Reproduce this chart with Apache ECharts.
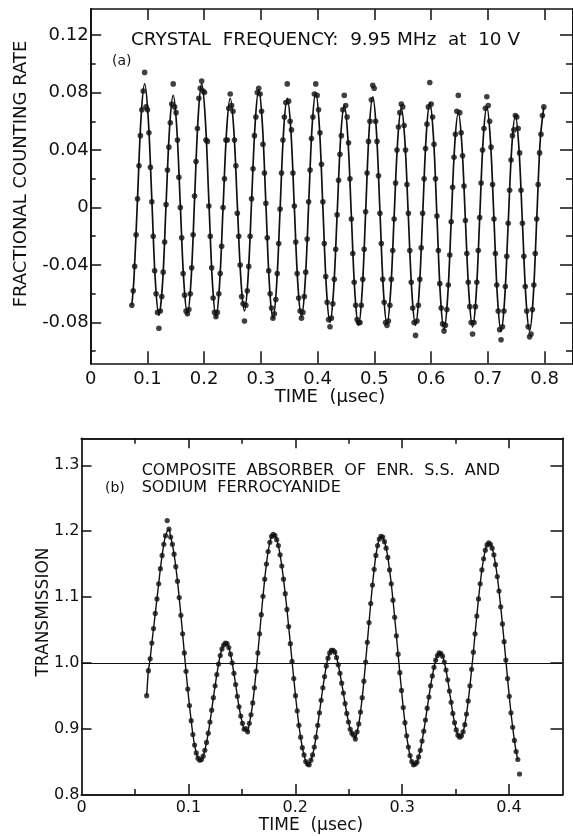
<!DOCTYPE html>
<html><head><meta charset="utf-8">
<script src="https://cdn.jsdelivr.net/npm/echarts@6/dist/echarts.min.js"></script>
<style>html,body{margin:0;padding:0;background:#fff}#c{width:573px;height:836px}</style>
</head><body><div id="c"></div>
<script>
// ---------- Panel (a): crystal frequency 9.95 MHz ----------
const timeA = [0.0725,
0.0750,0.0775,0.0800,0.0825,0.0851,0.0876,0.0901,0.0926,0.0951,0.0976,0.1001,0.1026,0.1052,0.1077,0.1102,0.1127,0.1152,0.1177,0.1202,0.1227,
0.1253,0.1278,0.1303,0.1328,0.1353,0.1378,0.1403,0.1428,0.1454,0.1479,0.1504,0.1529,0.1554,0.1579,0.1604,0.1629,0.1655,0.1680,0.1705,0.1730,
0.1755,0.1780,0.1805,0.1830,0.1856,0.1881,0.1906,0.1931,0.1956,0.1981,0.2006,0.2031,0.2057,0.2082,0.2107,0.2132,0.2157,0.2182,0.2207,0.2232,
0.2258,0.2283,0.2308,0.2333,0.2358,0.2383,0.2408,0.2433,0.2459,0.2484,0.2509,0.2534,0.2559,0.2584,0.2609,0.2634,0.2660,0.2685,0.2710,0.2735,
0.2760,0.2785,0.2810,0.2835,0.2861,0.2886,0.2911,0.2936,0.2961,0.2986,0.3011,0.3036,0.3062,0.3087,0.3112,0.3137,0.3162,0.3187,0.3212,0.3237,
0.3263,0.3288,0.3313,0.3338,0.3363,0.3388,0.3413,0.3438,0.3464,0.3489,0.3514,0.3539,0.3564,0.3589,0.3614,0.3639,0.3665,0.3690,0.3715,0.3740,
0.3765,0.3790,0.3815,0.3840,0.3866,0.3891,0.3916,0.3941,0.3966,0.3991,0.4016,0.4041,0.4067,0.4092,0.4117,0.4142,0.4167,0.4192,0.4217,0.4242,
0.4268,0.4293,0.4318,0.4343,0.4368,0.4393,0.4418,0.4443,0.4469,0.4494,0.4519,0.4544,0.4569,0.4594,0.4619,0.4644,0.4670,0.4695,0.4720,0.4745,
0.4770,0.4795,0.4820,0.4845,0.4871,0.4896,0.4921,0.4946,0.4971,0.4996,0.5021,0.5046,0.5072,0.5097,0.5122,0.5147,0.5172,0.5197,0.5222,0.5247,
0.5273,0.5298,0.5323,0.5348,0.5373,0.5398,0.5423,0.5448,0.5474,0.5499,0.5524,0.5549,0.5574,0.5599,0.5624,0.5649,0.5675,0.5700,0.5725,0.5750,
0.5775,0.5800,0.5825,0.5850,0.5876,0.5901,0.5926,0.5951,0.5976,0.6001,0.6026,0.6051,0.6077,0.6102,0.6127,0.6152,0.6177,0.6202,0.6227,0.6252,
0.6278,0.6303,0.6328,0.6353,0.6378,0.6403,0.6428,0.6453,0.6479,0.6504,0.6529,0.6554,0.6579,0.6604,0.6629,0.6654,0.6680,0.6705,0.6730,0.6755,
0.6780,0.6805,0.6830,0.6855,0.6881,0.6906,0.6931,0.6956,0.6981,0.7006,0.7031,0.7056,0.7082,0.7107,0.7132,0.7157,0.7182,0.7207,0.7232,0.7257,
0.7283,0.7308,0.7333,0.7358,0.7383,0.7408,0.7433,0.7458,0.7484,0.7509,0.7534,0.7559,0.7584,0.7609,0.7634,0.7659,0.7685,0.7710,0.7735,0.7760,
0.7785,0.7810,0.7835,0.7860,0.7886,0.7911,0.7936,0.7961,0.7986];

const rateA = [-0.068,
-0.058,-0.041,-0.019,0.006,0.029,0.050,0.068,0.081,0.094,0.070,0.068,0.052,0.028,0.004,-0.020,-0.044,-0.060,-0.073,-0.084,-0.072,
-0.062,-0.045,-0.024,0.002,0.026,0.042,0.059,0.072,0.086,0.070,0.066,0.047,0.021,0.000,-0.021,-0.046,-0.061,-0.072,-0.074,-0.071,
-0.060,-0.042,-0.019,0.008,0.032,0.055,0.076,0.083,0.088,0.081,0.080,0.047,0.046,0.001,-0.020,-0.042,-0.063,-0.073,-0.076,-0.073,
-0.060,-0.046,-0.027,0.000,0.020,0.047,0.047,0.069,0.079,0.071,0.067,0.047,0.029,-0.004,-0.020,-0.040,-0.062,-0.067,-0.079,-0.068,
-0.058,-0.041,-0.020,0.006,0.027,0.050,0.063,0.080,0.083,0.079,0.067,0.044,0.024,0.003,-0.021,-0.044,-0.060,-0.070,-0.077,-0.074,
-0.064,-0.046,-0.025,-0.001,0.024,0.047,0.063,0.073,0.086,0.074,0.060,0.054,0.024,0.001,-0.024,-0.046,-0.063,-0.072,-0.077,-0.073,
-0.062,-0.045,-0.022,0.004,0.026,0.048,0.063,0.079,0.086,0.078,0.068,0.052,0.030,0.004,-0.025,-0.048,-0.066,-0.078,-0.083,-0.077,
-0.067,-0.050,-0.029,-0.005,0.019,0.037,0.050,0.068,0.078,0.071,0.063,0.045,0.020,-0.008,-0.032,-0.052,-0.068,-0.078,-0.080,-0.080,
-0.068,-0.050,-0.029,-0.003,0.024,0.046,0.060,0.075,0.085,0.083,0.060,0.046,0.022,-0.004,-0.025,-0.050,-0.066,-0.080,-0.082,-0.079,
-0.068,-0.050,-0.030,-0.008,0.017,0.040,0.056,0.066,0.072,0.070,0.057,0.040,0.016,-0.004,-0.030,-0.052,-0.070,-0.080,-0.089,-0.079,
-0.068,-0.050,-0.028,-0.004,0.020,0.041,0.058,0.070,0.087,0.072,0.063,0.044,0.020,-0.006,-0.030,-0.053,-0.070,-0.081,-0.086,-0.082,
-0.071,-0.054,-0.033,-0.010,0.014,0.035,0.051,0.067,0.078,0.066,0.052,0.036,0.015,-0.009,-0.032,-0.052,-0.069,-0.080,-0.088,-0.080,
-0.069,-0.052,-0.030,-0.007,0.017,0.040,0.055,0.069,0.077,0.071,0.060,0.042,0.016,-0.008,-0.032,-0.054,-0.072,-0.085,-0.092,-0.083,
-0.072,-0.055,-0.034,-0.011,0.012,0.033,0.050,0.054,0.064,0.063,0.055,0.038,0.012,-0.011,-0.034,-0.055,-0.072,-0.083,-0.090,-0.088,
-0.071,-0.054,-0.032,-0.008,0.016,0.038,0.051,0.064,0.070];

// fitted curve of panel (a), read at peaks, troughs and the points between
const fitTimeA = [0.0725,
0.0763,0.0826,0.0888,0.0951,0.1014,0.1077,0.1139,0.1202,
0.1266,0.1328,0.1391,0.1454,0.1516,0.1579,0.1642,0.1705,
0.1768,0.1831,0.1894,0.1956,0.2019,0.2082,0.2145,0.2207,
0.2270,0.2333,0.2396,0.2459,0.2522,0.2584,0.2647,0.2710,
0.2773,0.2836,0.2899,0.2961,0.3024,0.3087,0.3150,0.3212,
0.3275,0.3338,0.3401,0.3464,0.3527,0.3589,0.3652,0.3715,
0.3778,0.3841,0.3903,0.3966,0.4029,0.4092,0.4155,0.4217,
0.4280,0.4343,0.4406,0.4469,0.4531,0.4594,0.4657,0.4720,
0.4783,0.4846,0.4908,0.4971,0.5034,0.5097,0.5159,0.5222,
0.5285,0.5348,0.5411,0.5474,0.5536,0.5599,0.5662,0.5725,
0.5788,0.5851,0.5913,0.5976,0.6039,0.6102,0.6164,0.6227,
0.6290,0.6353,0.6416,0.6479,0.6541,0.6604,0.6667,0.6730,
0.6793,0.6856,0.6918,0.6981,0.7044,0.7107,0.7169,0.7232,
0.7295,0.7358,0.7421,0.7484,0.7546,0.7609,0.7672,0.7735,
0.7798,0.7861,0.7923,0.7986];
const fitRateA = [-0.068,
-0.049,0.007,0.063,0.086,0.062,0.006,-0.051,-0.075,
-0.053,0.002,0.056,0.078,0.056,0.002,-0.052,-0.074,
-0.051,0.006,0.063,0.086,0.062,0.005,-0.052,-0.076,
-0.054,0.000,0.054,0.076,0.054,0.002,-0.050,-0.072,
-0.049,0.005,0.059,0.082,0.059,0.003,-0.054,-0.077,
-0.055,-0.001,0.054,0.076,0.054,0.000,-0.054,-0.076,
-0.053,0.002,0.057,0.080,0.057,0.000,-0.057,-0.080,
-0.058,-0.005,0.049,0.071,0.049,-0.006,-0.060,-0.082,
-0.059,-0.003,0.054,0.077,0.054,-0.002,-0.058,-0.081,
-0.059,-0.006,0.047,0.069,0.047,-0.007,-0.060,-0.082,
-0.059,-0.005,0.050,0.073,0.050,-0.006,-0.062,-0.085,
-0.063,-0.010,0.044,0.066,0.044,-0.009,-0.061,-0.083,
-0.061,-0.007,0.048,0.070,0.047,-0.008,-0.063,-0.086,
-0.064,-0.011,0.042,0.064,0.042,-0.011,-0.064,-0.086,
-0.063,-0.008,0.047,0.070];

const xLabelsA = [0, 0.1, 0.2, 0.3, 0.4, 0.5, 0.6, 0.7, 0.8];
const xTicksA = [0.1, 0.2, 0.3, 0.4, 0.5, 0.6, 0.7, 0.8];
const yLabelsA = [-0.08, -0.04, 0, 0.04, 0.08, 0.12];
const yMinorA = [-0.10, -0.06, -0.02, 0.02, 0.06, 0.10];

// ---------- Panel (b): composite absorber ----------
const timeB = [
0.0610,0.0626,0.0642,0.0658,0.0674,0.0690,0.0706,0.0722,0.0738,0.0754,0.0770,0.0786,0.0802,0.0818,0.0834,0.0850,0.0866,0.0882,0.0898,0.0914,
0.0930,0.0946,0.0962,0.0978,0.0994,0.1010,0.1026,0.1042,0.1058,0.1074,0.1090,0.1106,0.1122,0.1138,0.1154,0.1170,0.1186,0.1202,0.1218,0.1234,
0.1250,0.1266,0.1282,0.1298,0.1314,0.1330,0.1346,0.1362,0.1378,0.1394,0.1410,0.1426,0.1442,0.1458,0.1474,0.1490,0.1506,0.1522,0.1538,0.1554,
0.1570,0.1586,0.1602,0.1618,0.1634,0.1650,0.1666,0.1682,0.1698,0.1714,0.1730,0.1746,0.1762,0.1778,0.1794,0.1810,0.1826,0.1842,0.1858,0.1874,
0.1890,0.1906,0.1922,0.1938,0.1954,0.1970,0.1986,0.2002,0.2018,0.2034,0.2050,0.2066,0.2082,0.2098,0.2114,0.2130,0.2146,0.2162,0.2178,0.2194,
0.2210,0.2226,0.2242,0.2258,0.2274,0.2290,0.2306,0.2322,0.2338,0.2354,0.2370,0.2386,0.2402,0.2418,0.2434,0.2450,0.2466,0.2482,0.2498,0.2514,
0.2530,0.2546,0.2562,0.2578,0.2594,0.2610,0.2626,0.2642,0.2658,0.2674,0.2690,0.2706,0.2722,0.2738,0.2754,0.2770,0.2786,0.2802,0.2818,0.2834,
0.2850,0.2866,0.2882,0.2898,0.2914,0.2930,0.2946,0.2962,0.2978,0.2994,0.3010,0.3026,0.3042,0.3058,0.3074,0.3090,0.3106,0.3122,0.3138,0.3154,
0.3170,0.3186,0.3202,0.3218,0.3234,0.3250,0.3266,0.3282,0.3298,0.3314,0.3330,0.3346,0.3362,0.3378,0.3394,0.3410,0.3426,0.3442,0.3458,0.3474,
0.3490,0.3506,0.3522,0.3538,0.3554,0.3570,0.3586,0.3602,0.3618,0.3634,0.3650,0.3666,0.3682,0.3698,0.3714,0.3730,0.3746,0.3762,0.3778,0.3794,
0.3810,0.3826,0.3842,0.3858,0.3874,0.3890,0.3906,0.3922,0.3938,0.3954,0.3970,0.3986,0.4002,0.4018,0.4034,0.4050,0.4066,0.4082,0.4098];

const transB = [
0.950,0.988,1.006,1.030,1.052,1.075,1.097,1.120,1.143,1.163,1.180,1.193,1.216,
1.203,1.191,1.180,1.165,1.146,1.124,1.099,1.072,1.044,1.015,0.987,0.960,0.935,0.912,0.891,0.875,0.863,0.855,0.852,
0.853,0.858,0.867,0.879,0.893,0.910,0.928,0.947,0.965,0.982,0.998,1.011,1.021,1.027,1.030,
1.029,1.023,1.013,1.000,0.984,0.967,0.949,0.933,0.919,0.908,0.899,0.900,
0.895,0.908,0.921,0.939,0.962,0.987,1.015,1.044,1.073,1.101,1.127,1.150,1.169,1.183,1.192,1.195,
1.193,1.187,1.178,1.164,1.147,1.127,1.105,1.081,1.055,1.029,1.002,0.976,0.950,0.927,0.905,0.887,0.871,0.860,0.850,0.846,
0.845,0.852,0.860,0.872,0.887,0.905,0.924,0.943,0.962,0.979,0.995,1.007,1.015,1.019,
1.019,1.016,1.008,0.997,0.984,0.969,0.954,0.938,0.923,0.910,0.899,0.893,0.890,
0.884,0.895,0.907,0.925,0.947,0.972,1.001,1.031,1.061,1.090,1.118,1.142,1.163,1.178,1.188,1.192,
1.191,1.184,1.174,1.160,1.141,1.120,1.095,1.069,1.041,1.013,0.985,0.958,0.932,0.909,0.889,0.872,0.859,0.850,0.845,
0.846,0.849,0.857,0.867,0.881,0.896,0.913,0.931,0.948,0.965,0.980,0.993,1.004,1.011,1.015,
1.014,1.010,1.001,0.989,0.974,0.957,0.940,0.923,0.909,0.898,0.890,0.887,
0.889,0.895,0.906,0.922,0.942,0.965,0.990,1.016,1.044,1.071,1.097,1.120,1.141,1.158,1.171,1.179,1.182,
1.180,1.174,1.164,1.149,1.131,1.109,1.085,1.059,1.032,1.004,0.976,0.949,0.924,0.902,0.882,0.865,0.853,0.831];

const outliersB = [12, 218];   // points lying off the drawn curve
const refLevelB = 1.0;
const xLabelsB = [0, 0.1, 0.2, 0.3, 0.4];
const xMajorB = [0.1, 0.2, 0.3, 0.4];
const xMinorB = [0.05, 0.15, 0.25, 0.35];
const yLabelsB = [0.8, 0.9, 1.0, 1.1, 1.2, 1.3];
const yTicksB = [0.9, 1.0, 1.1, 1.2, 1.3];

// ---------- build ----------
const ptsA = timeA.map((t, i) => [t, rateA[i]]);
const fitA = fitTimeA.map((t, i) => [t, fitRateA[i]]);
const ptsB = timeB.map((t, i) => [t, transB[i]]);
const lineB = ptsB.filter((p, i) => outliersB.indexOf(i) < 0);

const INK = '#101010';
const FONT = 'DejaVu Sans';

function ax(grid, pos, min, max, o) {
  return Object.assign({
    type: 'value', gridIndex: grid, position: pos, min: min, max: max,
    axisLine: { show: true, onZero: false, lineStyle: { color: INK, width: 1.7 } },
    axisTick: { show: false },
    axisLabel: { show: false },
    splitLine: { show: false }
  }, o);
}
function ticks(vals, len) {
  return { show: true, inside: true, length: len, customValues: vals, lineStyle: { color: INK, width: 1.5 } };
}

const A_XMIN = 0, A_XMAX = 0.85, A_YMIN = -0.1084, A_YMAX = 0.1381;
const B_XMIN = 0, B_XMAX = 0.45, B_YMIN = 0.8, B_YMAX = 1.341;

const option = {
  animation: false,
  backgroundColor: '#fff',
  grid: [
    { left: 90.7, top: 9, width: 486.3, height: 354.3, containLabel: false },
    { left: 81.5, top: 438.3, width: 481, height: 356.1, containLabel: false }
  ],
  xAxis: [
    ax(0, 'bottom', A_XMIN, A_XMAX, {
      axisTick: ticks(xTicksA, 12),
      axisLabel: { show: true, customValues: xLabelsA, margin: 7, color: INK, fontFamily: FONT, fontSize: 18 }
    }),
    ax(0, 'top', A_XMIN, A_XMAX, { axisTick: ticks(xTicksA, 11) }),
    ax(1, 'bottom', B_XMIN, B_XMAX, {
      axisTick: ticks(xMajorB, 10.5),
      axisLabel: { show: true, customValues: xLabelsB, margin: 5, color: INK, fontFamily: FONT, fontSize: 16 }
    }),
    ax(1, 'bottom', B_XMIN, B_XMAX, { axisTick: ticks(xMinorB, 5.5) }),
    ax(1, 'top', B_XMIN, B_XMAX, { axisTick: ticks(xMajorB, 10) }),
    ax(1, 'top', B_XMIN, B_XMAX, { axisTick: ticks(xMinorB, 5.5) })
  ],
  yAxis: [
    ax(0, 'left', A_YMIN, A_YMAX, {
      axisTick: ticks(yLabelsA, 10.5),
      axisLabel: { show: true, customValues: yLabelsA, margin: 2, color: INK, fontFamily: FONT, fontSize: 18 }
    }),
    ax(0, 'left', A_YMIN, A_YMAX, { axisTick: ticks(yMinorA, 5) }),
    ax(0, 'right', A_YMIN, A_YMAX, { axisTick: ticks(yLabelsA, 13) }),
    ax(0, 'right', A_YMIN, A_YMAX, { axisTick: ticks(yMinorA, 7) }),
    ax(1, 'left', B_YMIN, B_YMAX, {
      axisTick: ticks(yTicksB, 10),
      axisLabel: { show: true, customValues: yLabelsB, margin: 2, color: INK, fontFamily: FONT, fontSize: 16,
        formatter: v => v.toFixed(1) }
    }),
    ax(1, 'right', B_YMIN, B_YMAX, { axisTick: ticks(yTicksB, 12) })
  ],
  series: [
    { type: 'line', xAxisIndex: 0, yAxisIndex: 0, data: fitA, showSymbol: false, smooth: 0.35,
      lineStyle: { color: INK, width: 1.7 }, silent: true, z: 2 },
    { type: 'scatter', xAxisIndex: 0, yAxisIndex: 0, data: ptsA, symbol: 'circle', symbolSize: 5.6,
      itemStyle: { color: INK }, silent: true, z: 3 },
    { type: 'line', xAxisIndex: 2, yAxisIndex: 4, data: lineB, showSymbol: false, smooth: 0.3,
      lineStyle: { color: INK, width: 1.4 }, silent: true, z: 2,
      markLine: { silent: true, symbol: 'none', label: { show: false },
        lineStyle: { color: INK, width: 1.1, type: 'solid' }, data: [{ yAxis: refLevelB }] } },
    { type: 'scatter', xAxisIndex: 2, yAxisIndex: 4, data: ptsB, symbol: 'circle', symbolSize: 5.2,
      itemStyle: { color: INK }, silent: true, z: 3 }
  ],
  graphic: [
    { type: 'text', left: 131, top: 31, silent: true,
      style: { text: 'CRYSTAL  FREQUENCY:  9.95 MHz  at  10 V', fill: INK, font: '18.4px "DejaVu Sans"' } },
    { type: 'text', left: 112, top: 54, silent: true,
      style: { text: '(a)', fill: INK, font: '14px "DejaVu Sans"' } },
    { type: 'text', x: 21.5, y: 174, rotation: Math.PI / 2, silent: true,
      style: { text: 'FRACTIONAL COUNTING RATE', fill: INK, font: '18px "DejaVu Sans"', align: 'center', verticalAlign: 'middle' } },
    { type: 'text', x: 330, y: 397, silent: true,
      style: { text: 'TIME  (\u00B5sec)', fill: INK, font: '18px "DejaVu Sans"', align: 'center', verticalAlign: 'middle' } },
    { type: 'text', left: 141.7, top: 463, silent: true,
      style: { text: 'COMPOSITE  ABSORBER  OF  ENR.  S.S.  AND', fill: INK, font: '16px "DejaVu Sans"' } },
    { type: 'text', left: 141.7, top: 480, silent: true,
      style: { text: 'SODIUM  FERROCYANIDE', fill: INK, font: '16px "DejaVu Sans"' } },
    { type: 'text', left: 105, top: 481, silent: true,
      style: { text: '(b)', fill: INK, font: '14px "DejaVu Sans"' } },
    { type: 'text', x: 44, y: 612, rotation: Math.PI / 2, silent: true,
      style: { text: 'TRANSMISSION', fill: INK, font: '17px "DejaVu Sans"', align: 'center', verticalAlign: 'middle' } },
    { type: 'text', x: 311, y: 826, silent: true,
      style: { text: 'TIME  (\u00B5sec)', fill: INK, font: '17px "DejaVu Sans"', align: 'center', verticalAlign: 'middle' } }
  ]
};

const chart = echarts.init(document.getElementById('c'), null, { renderer: 'canvas' });
chart.setOption(option);
</script>
</body></html>
